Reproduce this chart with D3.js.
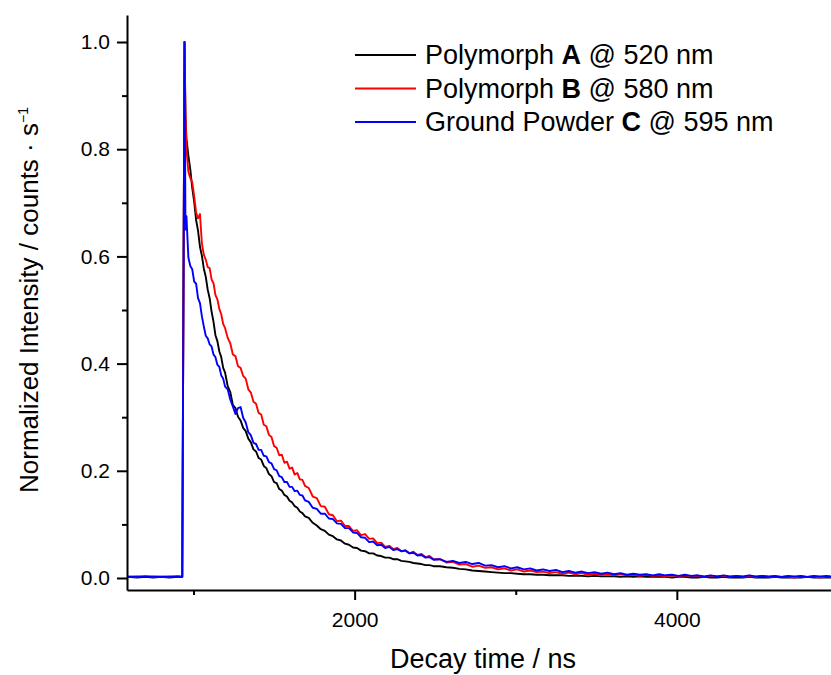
<!DOCTYPE html>
<html>
<head>
<meta charset="utf-8">
<script src="https://cdn.jsdelivr.net/npm/d3@7"></script>
<style>
    body { margin: 0; background: #fff; }
    svg { font-family: Arial, "Liberation Sans", sans-serif; }
</style>
</head>
<body>
<div id="chart"></div>
<script>
// 1: DATA
const times = [
    590, 650, 700, 750, 800, 850, 900, 930, 944, 950,
    956, 968, 980, 992, 1004, 1016, 1028, 1040, 1052, 1064, 1076,
    1088, 1100, 1112, 1124, 1136, 1148, 1160, 1172, 1184, 1196,
    1212, 1228, 1244, 1260, 1276, 1292, 1308, 1324, 1340, 1356,
    1372, 1388, 1404, 1420, 1436, 1452, 1468, 1484, 1500, 1516,
    1532, 1548, 1564, 1580, 1596, 1612, 1628, 1644, 1660, 1676, 1692,
    1715, 1740, 1765, 1790, 1815, 1840, 1865, 1890, 1915, 1940,
    1965, 1990, 2015, 2040, 2065, 2090, 2115, 2140, 2165, 2190,
    2215, 2240, 2265, 2290, 2315, 2340, 2365, 2390, 2415, 2440, 2465, 2490,
    2530, 2570, 2610, 2650, 2690, 2730, 2770, 2810, 2850, 2890,
    2930, 2970, 3010, 3050, 3090, 3130, 3170, 3210, 3250, 3290,
    3330, 3370, 3410, 3450, 3490, 3530, 3570, 3610, 3650, 3690,
    3730, 3770, 3810, 3850, 3890, 3930, 3970, 4010, 4050, 4090,
    4130, 4170, 4210, 4250, 4290, 4330, 4370, 4410, 4450, 4490,
    4530, 4570, 4610, 4650, 4690, 4730, 4770, 4810, 4850, 4890, 4930, 4960
];

const polymorphA = [
    0.002, 0.001, 0.002, 0.001, 0.002, 0.001, 0.002, 0.002, 1.0, 0.86,
    0.82, 0.788, 0.762, 0.728, 0.702, 0.668, 0.648, 0.618, 0.601, 0.577, 0.562,
    0.538, 0.522, 0.497, 0.478, 0.453, 0.442, 0.423, 0.412, 0.392, 0.383,
    0.358, 0.347, 0.323, 0.317, 0.301, 0.294, 0.28, 0.274, 0.26, 0.253,
    0.24, 0.236, 0.224, 0.221, 0.209, 0.205, 0.194, 0.19, 0.179, 0.177,
    0.166, 0.163, 0.155, 0.152, 0.144, 0.141, 0.134, 0.131, 0.124, 0.121, 0.115,
    0.112, 0.103, 0.098, 0.091, 0.088, 0.081, 0.078, 0.072, 0.07, 0.064,
    0.062, 0.057, 0.056, 0.051, 0.05, 0.046, 0.046, 0.042, 0.041, 0.038,
    0.038, 0.035, 0.035, 0.032, 0.031, 0.03, 0.028, 0.027, 0.026, 0.024, 0.024, 0.022,
    0.022, 0.02, 0.019, 0.017, 0.016, 0.014, 0.013, 0.012, 0.011, 0.01,
    0.009, 0.009, 0.008, 0.007, 0.007, 0.006, 0.006, 0.005, 0.005, 0.005,
    0.004, 0.004, 0.004, 0.003, 0.004, 0.003, 0.003, 0.003, 0.002, 0.003,
    0.002, 0.003, 0.002, 0.002, 0.002, 0.002, 0.001, 0.002, 0.002, 0.001,
    0.001, 0.002, 0.001, 0.001, 0.002, 0.001, 0.001, 0.001, 0.002, 0.001,
    0.001, 0.001, 0.002, 0.001, 0.001, 0.001, 0.001, 0.002, 0.001, 0.001, 0.001, 0.001
];

const polymorphB = [
    0.003, 0.002, 0.004, 0.002, 0.003, 0.002, 0.004, 0.003, 1.0, 0.87,
    0.80, 0.758, 0.746, 0.738, 0.712, 0.682, 0.671, 0.679, 0.624, 0.603, 0.594,
    0.58, 0.578, 0.557, 0.55, 0.528, 0.52, 0.502, 0.492, 0.474, 0.466,
    0.448, 0.438, 0.417, 0.414, 0.395, 0.392, 0.377, 0.372, 0.352, 0.346,
    0.329, 0.325, 0.308, 0.305, 0.286, 0.283, 0.267, 0.263, 0.246, 0.243,
    0.229, 0.23, 0.215, 0.217, 0.204, 0.206, 0.193, 0.196, 0.184, 0.183, 0.172,
    0.168, 0.152, 0.149, 0.134, 0.133, 0.119, 0.117, 0.106, 0.107, 0.097,
    0.097, 0.088, 0.089, 0.08, 0.082, 0.073, 0.074, 0.065, 0.066, 0.058,
    0.06, 0.054, 0.056, 0.05, 0.052, 0.046, 0.049, 0.043, 0.045, 0.039, 0.041, 0.035,
    0.035, 0.029, 0.03, 0.025, 0.026, 0.021, 0.023, 0.019, 0.02, 0.016,
    0.018, 0.014, 0.016, 0.012, 0.014, 0.011, 0.012, 0.009, 0.011, 0.008,
    0.01, 0.007, 0.009, 0.006, 0.008, 0.006, 0.007, 0.005, 0.007, 0.005,
    0.006, 0.004, 0.006, 0.004, 0.005, 0.003, 0.005, 0.003, 0.005, 0.003,
    0.004, 0.002, 0.004, 0.003, 0.004, 0.002, 0.004, 0.002, 0.003, 0.002,
    0.004, 0.002, 0.003, 0.002, 0.003, 0.001, 0.003, 0.002, 0.003, 0.001, 0.003, 0.002
];

const powderC = [
    0.002, 0.003, 0.002, 0.003, 0.002, 0.003, 0.002, 0.002, 1.0, 0.65,
    0.675, 0.598, 0.582, 0.576, 0.553, 0.549, 0.522, 0.513, 0.488, 0.469, 0.452,
    0.447, 0.436, 0.432, 0.417, 0.412, 0.398, 0.394, 0.378, 0.372, 0.357,
    0.352, 0.333, 0.32, 0.306, 0.317, 0.319, 0.299, 0.29, 0.272, 0.266,
    0.252, 0.25, 0.239, 0.239, 0.228, 0.227, 0.216, 0.214, 0.203, 0.201,
    0.19, 0.188, 0.179, 0.179, 0.17, 0.17, 0.162, 0.163, 0.155, 0.154, 0.145,
    0.142, 0.131, 0.129, 0.12, 0.12, 0.111, 0.11, 0.102, 0.101, 0.093,
    0.093, 0.085, 0.084, 0.076, 0.075, 0.067, 0.068, 0.061, 0.062, 0.056,
    0.058, 0.052, 0.054, 0.05, 0.051, 0.046, 0.047, 0.042, 0.043, 0.038, 0.039, 0.034,
    0.035, 0.03, 0.032, 0.028, 0.03, 0.026, 0.028, 0.023, 0.024, 0.02,
    0.022, 0.018, 0.02, 0.016, 0.018, 0.014, 0.016, 0.013, 0.015, 0.011,
    0.013, 0.01, 0.012, 0.009, 0.011, 0.008, 0.01, 0.007, 0.009, 0.006,
    0.008, 0.006, 0.007, 0.005, 0.007, 0.005, 0.006, 0.004, 0.006, 0.004,
    0.005, 0.003, 0.005, 0.003, 0.005, 0.003, 0.004, 0.003, 0.005, 0.003,
    0.004, 0.003, 0.004, 0.002, 0.004, 0.003, 0.004, 0.002, 0.004, 0.003, 0.004, 0.003
];

const legendPre = ["Polymorph ", "Polymorph ", "Ground Powder "];
const legendBold = ["A", "B", "C"];
const legendPost = [" @ 520 nm", " @ 580 nm", " @ 595 nm"];
const seriesColors = ["#000000", "#ff0000", "#0000ff"];

const xMajorTicks = [2000, 4000];
const xMinorTicks = [1000, 3000];
const yMajorTicks = [0, 0.2, 0.4, 0.6, 0.8, 1.0];
const yMinorTicks = [0.1, 0.3, 0.5, 0.7, 0.9];

// 2: SVG + SCALES
const W = 831, H = 675;
const plot = { left: 127, right: 831, top: 15, bottom: 590 };

const svg = d3.select("#chart").append("svg")
    .attr("width", W)
    .attr("height", H);

const xScale = d3.scaleLinear()
    .domain([587, 4957])
    .range([plot.left, plot.right]);

const yScale = d3.scaleLinear()
    .domain([-0.0224, 1.0504])
    .range([plot.bottom, plot.top]);

svg.append("clipPath").attr("id", "clip")
    .append("rect")
    .attr("x", plot.left)
    .attr("y", plot.top)
    .attr("width", plot.right - plot.left)
    .attr("height", plot.bottom - plot.top);

// 3: LINES
const line = d3.line()
    .x(d => xScale(d[0]))
    .y(d => yScale(d[1]));

const seriesData = [polymorphA, polymorphB, powderC].map((vals, i) => ({
    color: seriesColors[i],
    values: d3.zip(times, vals).filter(d => d[1] !== undefined)
}));

svg.append("g")
    .attr("clip-path", "url(#clip)")
    .selectAll("path")
    .data(seriesData)
    .enter()
    .append("path")
    .attr("d", d => line(d.values))
    .style("fill", "none")
    .style("stroke", d => d.color)
    .style("stroke-width", 1.9)
    .style("stroke-linejoin", "round");

// 4: AXES
function styleAxis(g) {
    g.attr("font-family", null).attr("font-size", 21);
    g.selectAll("path, line").attr("stroke", "#000").attr("stroke-width", 2);
    g.selectAll("text").attr("fill", "#000");
}

svg.append("g")
    .attr("transform", `translate(0,${plot.bottom})`)
    .call(d3.axisBottom(xScale).tickValues(xMajorTicks).tickSize(10).tickPadding(12)
        .tickSizeOuter(0).tickFormat(d3.format("d")))
    .call(styleAxis);

svg.append("g")
    .attr("transform", `translate(0,${plot.bottom})`)
    .call(d3.axisBottom(xScale).tickValues(xMinorTicks).tickSize(5).tickFormat(""))
    .call(styleAxis)
    .call(g => g.select(".domain").remove());

svg.append("g")
    .attr("transform", `translate(${plot.left},0)`)
    .call(d3.axisLeft(yScale).tickValues(yMajorTicks).tickSize(10).tickPadding(7)
        .tickSizeOuter(0).tickFormat(d3.format(".1f")))
    .call(styleAxis);

svg.append("g")
    .attr("transform", `translate(${plot.left},0)`)
    .call(d3.axisLeft(yScale).tickValues(yMinorTicks).tickSize(5).tickFormat(""))
    .call(styleAxis)
    .call(g => g.select(".domain").remove());

// Axis labels
svg.append("text")
    .attr("x", 483)
    .attr("y", 668)
    .attr("text-anchor", "middle")
    .style("font-size", "27px")
    .text("Decay time / ns");

const yTitle = svg.append("text")
    .attr("transform", "rotate(-90)")
    .attr("x", -300)
    .attr("y", 38)
    .attr("text-anchor", "middle")
    .style("font-size", "26px");
yTitle.append("tspan").text("Normalized Intensity / counts \u00b7 s");
yTitle.append("tspan")
    .attr("dy", "-0.7em")
    .style("font-size", "14px")
    .text("\u22121");

// 5: LEGEND
const legend = svg.selectAll(".legend")
    .data(legendPre)
    .enter()
    .append("g")
    .attr("class", "legend")
    .attr("transform", (d, i) => `translate(355, ${55 + i * 33.5})`);

legend.append("line")
    .attr("x1", 0)
    .attr("x2", 61)
    .style("stroke", (d, i) => seriesColors[i])
    .style("stroke-width", 1.9);

const legendText = legend.append("text")
    .attr("x", 70)
    .attr("y", 9)
    .style("font-size", "27px")
    .style("white-space", "pre");
legendText.append("tspan").text(d => d);
legendText.append("tspan").style("font-weight", "bold").text((d, i) => legendBold[i]);
legendText.append("tspan").text((d, i) => legendPost[i]);
</script>
</body>
</html>
